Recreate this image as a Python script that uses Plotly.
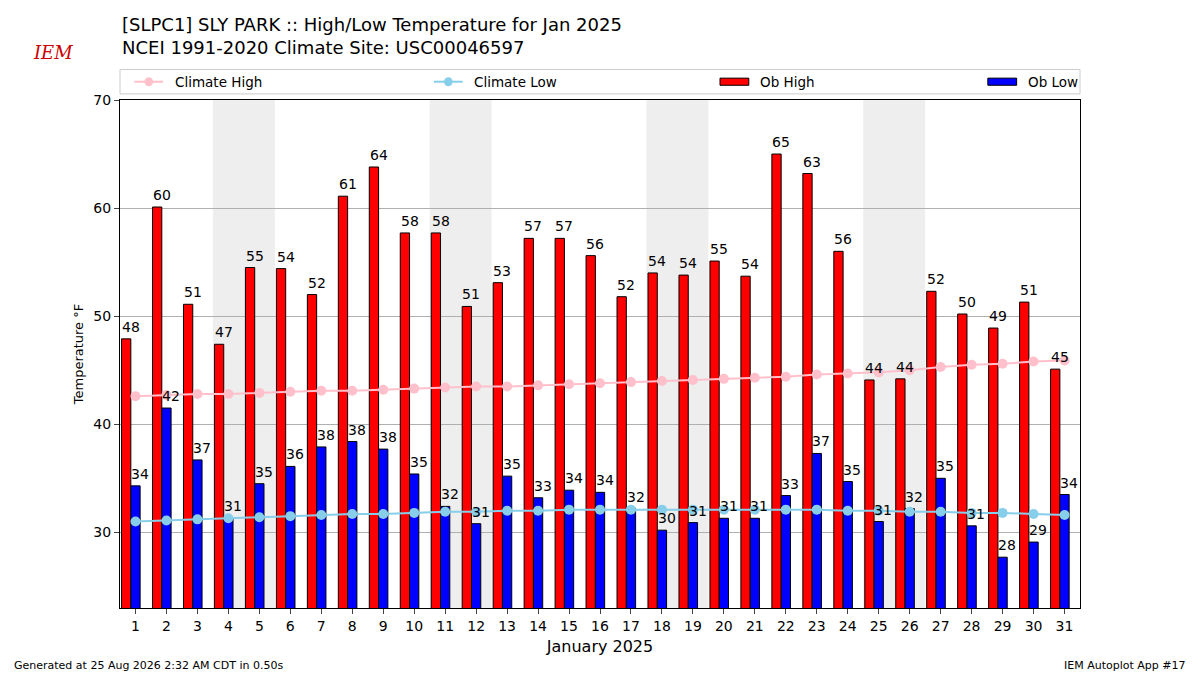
import plotly.graph_objects as go
import math

days = list(range(1, 32))
ob_high = [47.9, 60.1, 51.1, 47.4, 54.5, 54.4, 52.0, 61.1, 63.8, 57.7, 57.7, 50.9, 53.1, 57.2, 57.2, 55.6,
           51.8, 54.0, 53.8, 55.1, 53.7, 65.0, 63.2, 56.0, 44.1, 44.2, 52.3, 50.2, 48.9, 51.3, 45.1]
ob_low = [34.3, 41.5, 36.7, 31.3, 34.5, 36.1, 37.9, 38.4, 37.7, 35.4, 32.4, 30.8, 35.2, 33.2, 33.9, 33.7,
          32.2, 30.2, 30.9, 31.3, 31.3, 33.4, 37.3, 34.7, 31.0, 32.2, 35.0, 30.6, 27.7, 29.1, 33.5]
clim_high = [42.6, 42.7, 42.8, 42.8, 42.9, 43.0, 43.1, 43.1, 43.2, 43.3, 43.4, 43.5, 43.5, 43.6, 43.7, 43.8,
             43.9, 44.0, 44.1, 44.2, 44.3, 44.4, 44.6, 44.7, 44.8, 45.0, 45.3, 45.5, 45.6, 45.8, 45.9]
clim_low = [31.0, 31.1, 31.2, 31.3, 31.4, 31.5, 31.6, 31.7, 31.7, 31.8, 31.9, 31.9, 32.0, 32.0, 32.1, 32.1,
            32.1, 32.1, 32.1, 32.1, 32.1, 32.1, 32.1, 32.0, 32.0, 31.9, 31.9, 31.8, 31.8, 31.7, 31.6]
weekends = [4, 11, 18, 25]

fig = go.Figure()
for w in weekends:
    fig.add_shape(type="rect", x0=w - 0.5, x1=w + 1.5, y0=0, y1=1, yref="y domain",
                  fillcolor="#eeeeee", line_width=0, layer="below")

fig.add_trace(go.Bar(x=days, y=ob_high, name="Ob High", width=0.3, offset=-0.45, base=0,
                     marker=dict(color="red", line=dict(color="black", width=1))))
fig.add_trace(go.Bar(x=days, y=ob_low, name="Ob Low", width=0.3, offset=-0.15, base=0,
                     marker=dict(color="blue", line=dict(color="black", width=1))))
fig.add_trace(go.Scatter(x=days, y=clim_high, mode="lines+markers", name="Climate High",
                         line=dict(color="pink", width=2), marker=dict(size=10, color="pink")))
fig.add_trace(go.Scatter(x=days, y=clim_low, mode="lines+markers", name="Climate Low",
                         line=dict(color="skyblue", width=2), marker=dict(size=10, color="skyblue")))

def rnd(v):
    return int(math.floor(v + 0.5))

for d, h, l in zip(days, ob_high, ob_low):
    fig.add_annotation(x=d - 0.15, y=h, text=f"{rnd(h)}", showarrow=False, yshift=12,
                       font=dict(size=14, color="black"))
    fig.add_annotation(x=d + 0.15, y=l, text=f"{rnd(l)}", showarrow=False, yshift=12,
                       font=dict(size=14, color="black"))

fig.update_layout(
    width=1200, height=675, plot_bgcolor="white", paper_bgcolor="white",
    font=dict(family="DejaVu Sans", color="black", size=14),
    margin=dict(l=120, r=120, t=100, b=67),
    barmode="overlay", showlegend=False,
    xaxis=dict(range=[0.5, 31.5], tickmode="array", tickvals=days, ticks="outside", ticklen=5,
               showgrid=False, showline=True, linecolor="black", mirror=True,
               title=dict(text="January 2025", font=dict(size=16), standoff=8)),
    yaxis=dict(range=[23, 70], tickvals=[30, 40, 50, 60, 70], ticks="outside", ticklen=5,
               showgrid=True, gridcolor="#b0b0b0", showline=True, linecolor="black", mirror=True,
               title=dict(text="Temperature °F", font=dict(size=13), standoff=6), zeroline=False),
)

fig.add_annotation(xref="paper", yref="paper", x=0, y=1, yshift=88, xanchor="left", yanchor="top",
                   align="left", showarrow=False, font=dict(size=18),
                   text="[SLPC1] SLY PARK :: High/Low Temperature for Jan 2025<br>NCEI 1991-2020 Climate Site: USC00046597")
fig.add_shape(type="rect", xref="paper", yref="paper", x0=0, x1=1, y0=1.012, y1=1.06,
              line=dict(color="#cccccc", width=1), fillcolor="white")
leg = [("Climate High", "pink", "line", 0.015), ("Climate Low", "skyblue", "line", 0.327),
       ("Ob High", "red", "bar", 0.625), ("Ob Low", "blue", "bar", 0.904)]
for name, col, kind, x in leg:
    if kind == "line":
        fig.add_shape(type="line", xref="paper", yref="paper", x0=x, x1=x + 0.03, y0=1.036, y1=1.036,
                      line=dict(color=col, width=2))
        fig.add_shape(type="circle", xref="paper", yref="paper", x0=x + 0.0105, x1=x + 0.0195,
                      y0=1.027, y1=1.045, fillcolor=col, line_width=0)
    else:
        fig.add_shape(type="rect", xref="paper", yref="paper", x0=x, x1=x + 0.03, y0=1.029, y1=1.043,
                      fillcolor=col, line=dict(color="black", width=1))
    fig.add_annotation(xref="paper", yref="paper", x=x + 0.04, y=1.036, xanchor="left", yanchor="middle",
                       text=name, showarrow=False, font=dict(size=13.5))

fig.add_annotation(xref="paper", yref="paper", x=-0.07, y=1, yshift=60, xanchor="center", yanchor="top",
                   text="<i>IEM</i>", showarrow=False, font=dict(family="DejaVu Serif", size=18, color="#cc0000"))
fig.add_annotation(xref="paper", yref="paper", x=-0.113, y=0, yshift=-57, xanchor="left", yanchor="middle",
                   text="Generated at 25 Aug 2026 2:32 AM CDT in 0.50s", showarrow=False, font=dict(size=11))
fig.add_annotation(xref="paper", yref="paper", x=1.113, y=0, yshift=-57, xanchor="right", yanchor="middle",
                   text="IEM Autoplot App #17", showarrow=False, font=dict(size=11))

fig.write_html("out.html", config={"displayModeBar": False},
               post_script="document.body.style.margin='0';document.body.style.overflow='hidden';")
